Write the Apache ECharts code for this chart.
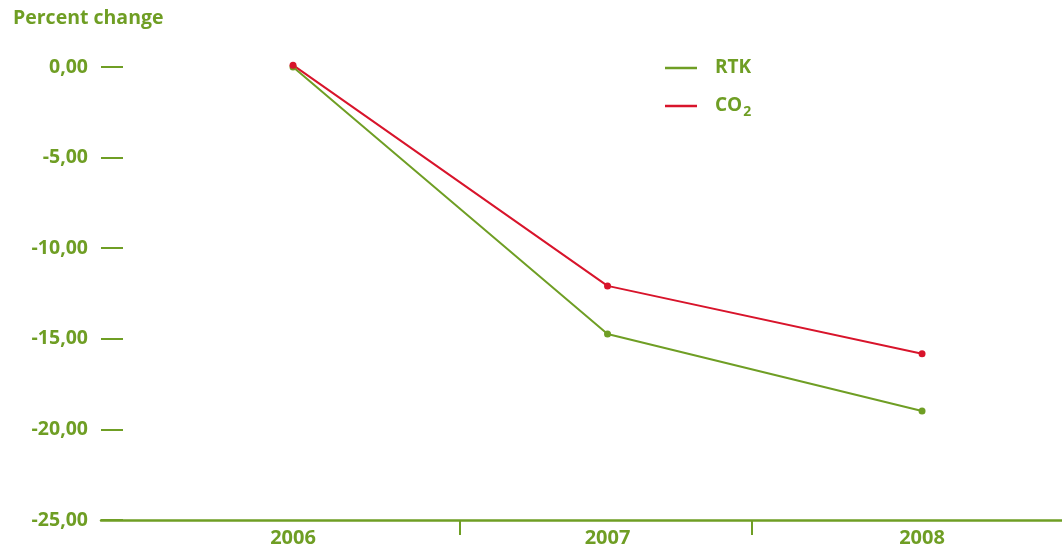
<!DOCTYPE html>
<html><head><meta charset="utf-8">
<script src="https://cdn.jsdelivr.net/npm/echarts@6/dist/echarts.min.js"></script>
<style>html,body{margin:0;padding:0;background:#fff}#c{width:1062px;height:552px}</style>
</head><body><div id="c"></div>
<script>
const years = [2006, 2007, 2008];
const rtk = [0.0, -14.73, -18.98];
const co2 = [0.1, -12.08, -15.83];
const xTickValues = [2006.53, 2007.46];

const GREEN = '#6f9e24';
const RED = '#d8142b';
const FONT = 'Open Sans';

const chart = echarts.init(document.getElementById('c'));
chart.setOption({
  animation: false,
  title: {
    text: 'Percent change', left: 8, top: 3,
    textStyle: {color: GREEN, fontFamily: FONT, fontWeight: 'bold', fontSize: 19.5}
  },
  legend: {
    orient: 'vertical', left: 665, top: 58, padding: 0, itemWidth: 32, itemHeight: 2.5, itemGap: 18,
    icon: 'rect',
    data: [{name: 'RTK', itemStyle: {color: GREEN}}, {name: 'CO2', itemStyle: {color: RED}}],
    formatter: n => n === 'CO2' ? 'CO{sub|2}' : n,
    textStyle: {
      color: GREEN, fontFamily: FONT, fontWeight: 'bold', fontSize: 19, lineHeight: 20,
      padding: [0, 0, 0, 13],
      rich: {sub: {color: GREEN, fontFamily: FONT, fontWeight: 'bold', fontSize: 14, padding: [12, 0, 0, 1]}}
    }
  },
  grid: {left: 101, right: 0, top: 67, bottom: 32, containLabel: false},
  xAxis: {
    type: 'value', min: 2005.3895, max: 2008.445,
    axisLine: {show: true, onZero: false, lineStyle: {color: GREEN, width: 2.5}},
    axisTick: {show: true, customValues: xTickValues, length: 15, lineStyle: {color: GREEN, width: 2}},
    axisLabel: {customValues: years, color: GREEN, fontFamily: FONT, fontWeight: 'bold', fontSize: 20, margin: 8,
      formatter: v => String(Math.round(v))},
    splitLine: {show: false}
  },
  yAxis: {
    type: 'value', min: -25, max: 0, interval: 5,
    axisLine: {show: false},
    axisTick: {show: true, inside: true, length: 22, lineStyle: {color: GREEN, width: 2}},
    axisLabel: {color: GREEN, fontFamily: FONT, fontWeight: 'bold', fontSize: 19.5, margin: 13,
      formatter: v => v.toFixed(2).replace('.', ',')},
    splitLine: {show: false}
  },
  series: [
    {name: 'RTK', type: 'line', data: years.map((y, i) => [y, rtk[i]]), clip: false,
      symbol: 'circle', symbolSize: 7, lineStyle: {color: GREEN, width: 2}, itemStyle: {color: GREEN}},
    {name: 'CO2', type: 'line', data: years.map((y, i) => [y, co2[i]]), clip: false,
      symbol: 'circle', symbolSize: 7, lineStyle: {color: RED, width: 2}, itemStyle: {color: RED}}
  ]
});
</script></body></html>
